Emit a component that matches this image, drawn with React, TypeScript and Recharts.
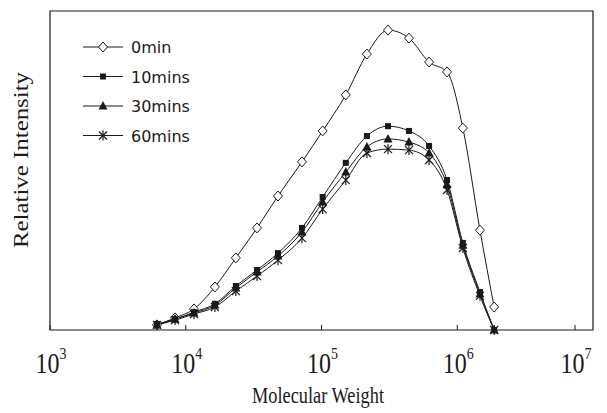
import {
  LineChart,
  Line,
  XAxis,
  YAxis,
  Legend,
  ReferenceArea,
  Label
} from "recharts";

const molecularWeight = [
  6140, 8340, 11500, 16400, 23400, 33500, 47800, 71800, 102000, 151000, 216000,
  309000, 441000, 620000, 841000, 1100000, 1470000, 1870000
];
const intensity0min = [
  1.6, 3.8, 6.6, 13.5, 22.6, 32.0, 42.0, 52.7, 62.4, 73.7, 86.5, 94.0, 91.5, 84.0, 80.9, 63.3, 31.3, 7.2
];
const intensity10mins = [
  1.9, 3.4, 5.6, 8.2, 13.8, 18.8, 24.1, 32.0, 41.7, 52.4, 60.8, 63.9, 62.4, 57.7, 47.0, 27.3, 11.9, 0
];
const intensity30mins = [
  1.6, 3.4, 5.3, 7.8, 13.2, 18.2, 23.2, 30.7, 40.1, 49.5, 57.4, 59.9, 58.9, 55.5, 45.5, 26.6, 11.3, 0
];
const intensity60mins = [
  1.6, 3.1, 5.0, 7.2, 12.2, 16.9, 21.9, 28.8, 37.9, 47.0, 55.5, 56.7, 56.4, 53.3, 43.9, 25.7, 10.7, 0
];
const xTicks = [1e3, 1e4, 1e5, 1e6, 1e7];

const data = molecularWeight.map((mw, i) => ({
  mw,
  t0: intensity0min[i],
  t10: intensity10mins[i],
  t30: intensity30mins[i],
  t60: intensity60mins[i]
}));

const INK = "#1a1a1a";
type Shape = "diamond" | "square" | "triangle" | "star";

const Marker = ({ cx, cy, shape }: { cx: number; cy: number; shape: Shape }) => {
  if (cx == null || cy == null) return null;
  switch (shape) {
    case "diamond":
      return (
        <path
          d={`M${cx},${cy - 5} L${cx + 4.5},${cy} L${cx},${cy + 5} L${cx - 4.5},${cy} Z`}
          fill="#fff"
          stroke={INK}
          strokeWidth={1}
        />
      );
    case "square":
      return <rect x={cx - 3} y={cy - 3} width={6} height={6} fill={INK} />;
    case "triangle":
      return <path d={`M${cx},${cy - 5} L${cx + 4.5},${cy + 3.5} L${cx - 4.5},${cy + 3.5} Z`} fill={INK} />;
    default:
      return (
        <g stroke={INK} strokeWidth={1.2}>
          <line x1={cx - 4} y1={cy - 4} x2={cx + 4} y2={cy + 4} />
          <line x1={cx - 4} y1={cy + 4} x2={cx + 4} y2={cy - 4} />
          <line x1={cx} y1={cy - 5} x2={cx} y2={cy + 5} />
        </g>
      );
  }
};

const series: { key: string; name: string; shape: Shape }[] = [
  { key: "t0", name: "0min", shape: "diamond" },
  { key: "t10", name: "10mins", shape: "square" },
  { key: "t30", name: "30mins", shape: "triangle" },
  { key: "t60", name: "60mins", shape: "star" }
];

const PowerTick = ({ x, y, payload }: any) => {
  const exp = Math.round(Math.log10(payload.value));
  return (
    <g>
      <line x1={x} y1={y} x2={x} y2={y - 5} stroke={INK} strokeWidth={1} />
      <g transform={`translate(${x + 1},${y + 43}) scale(1,1.25)`}>
        <text textAnchor="middle" fontFamily="'Liberation Serif', serif" fontSize={24} fill={INK}>
          <tspan>10</tspan>
          <tspan fontSize={14} dy={-11}>{exp}</tspan>
        </text>
      </g>
    </g>
  );
};

const renderLegend = () => (
  <svg width={140} height={120}>
    {series.map((s, i) => {
      const cy = 12 + i * 29.5;
      return (
        <g key={s.key}>
          <line x1={5} y1={cy} x2={45} y2={cy} stroke={INK} strokeWidth={1} />
          <Marker cx={25} cy={cy} shape={s.shape} />
          <text
            x={53}
            y={cy + 6}
            fontFamily="'DejaVu Sans', sans-serif"
            fontSize={16}
            fill={INK}
          >
            {s.name}
          </text>
        </g>
      );
    })}
  </svg>
);

const App = () => (
  <div style={{ position: "absolute", left: 0, top: 0, width: 607, height: 413, background: "#fff" }}>
    <LineChart width={607} height={413} data={data} margin={{ top: 11, right: 14, bottom: 0, left: 0 }}>
      <XAxis
        dataKey="mw"
        type="number"
        scale="log"
        domain={[1e3, 1e7]}
        ticks={xTicks}
        allowDataOverflow
        height={83}
        axisLine={false}
        tickLine={false}
        tickSize={0}
        tickMargin={0}
        tick={<PowerTick />}
      >
        <Label
          content={() => (
            <g transform="translate(318,403) scale(1,1.25)">
              <text
                textAnchor="middle"
                fontFamily="'Liberation Serif', serif"
                fontSize={19}
                textLength={132}
                lengthAdjust="spacingAndGlyphs"
                fill={INK}
              >
                Molecular Weight
              </text>
            </g>
          )}
        />
      </XAxis>
      <YAxis
        type="number"
        domain={[0, 100]}
        width={50}
        tick={false}
        axisLine={false}
        tickLine={false}
      >
        <Label
          content={() => (
            <text
              transform="translate(28,160) rotate(-90)"
              textAnchor="middle"
              fontFamily="'Liberation Serif', serif"
              fontSize={20}
              textLength={176}
              lengthAdjust="spacingAndGlyphs"
              fill={INK}
            >
              Relative Intensity
            </text>
          )}
        />
      </YAxis>
      <ReferenceArea x1={1e3} x2={1e7} y1={0} y2={100} fill="none" stroke={INK} strokeWidth={1.2} />
      <Legend
        layout="horizontal"
        verticalAlign="middle"
        align="center"
        wrapperStyle={{ left: 78, top: 35, width: 140, height: 120 }}
        content={renderLegend}
      />
      {series.map((s) => (
        <Line
          key={s.key}
          type="monotone"
          dataKey={s.key}
          name={s.name}
          stroke={INK}
          strokeWidth={1}
          dot={(p: any) => <Marker key={`${s.key}-${p.index}`} cx={p.cx} cy={p.cy} shape={s.shape} />}
          isAnimationActive={false}
        />
      ))}
    </LineChart>
  </div>
);

export default App;
